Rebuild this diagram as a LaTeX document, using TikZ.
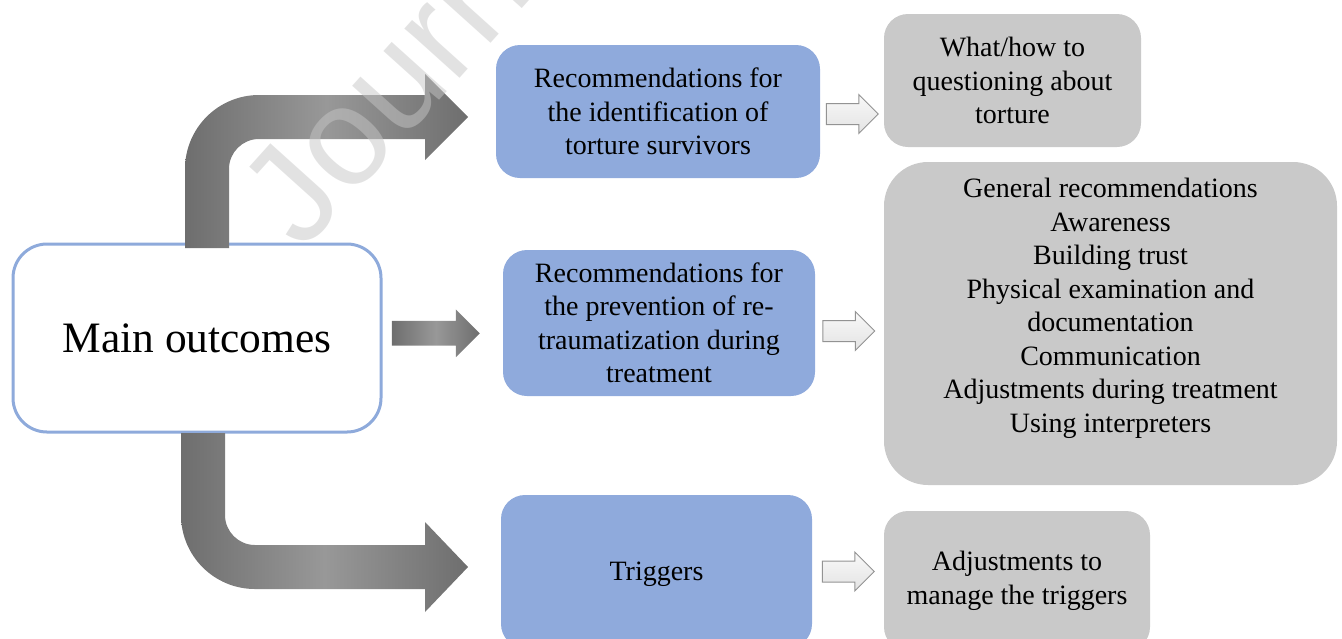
\documentclass[tikz,border=0pt]{standalone}
\usepackage{fontspec}
\setmainfont{Liberation Serif}
\newfontfamily\wmfont{Liberation Sans}
\usetikzlibrary{shapes,arrows,positioning,calc}

\definecolor{edgeblue}{RGB}{142,170,219}
\definecolor{boxblue}{RGB}{143,170,220}
\definecolor{boxgray}{RGB}{201,201,201}
\definecolor{arrdark}{RGB}{110,110,110}
\definecolor{arrlight}{RGB}{152,152,152}

\begin{document}
\begin{tikzpicture}[x=0.5pt, y=-0.5pt]
        \tikzset{
            mainbox/.style={draw=edgeblue, fill=white, rectangle, line width=1.5pt, rounded corners=17pt, minimum width=184pt, minimum height=94pt, align=center, font=\fontsize{21.7}{26}\selectfont},
            recbox/.style={fill=boxblue, rectangle, rounded corners=12pt, inner sep=0pt, align=center, font=\fontsize{14}{16.75}\selectfont},
            infobox/.style={fill=boxgray, rectangle, rounded corners=12pt, inner sep=0pt, align=center, font=\fontsize{14}{16.75}\selectfont},
            bentarrow/.style={left color=arrdark, right color=arrdark, middle color=arrlight},
            bigarrow/.style={single arrow, inner sep=0pt, text height=6pt, text depth=6pt, minimum width=23.5pt, single arrow head extend=5.75pt, left color=arrdark, right color=arrdark, middle color=arrlight},
            smallarrow/.style={single arrow, draw=gray!85, line width=0.5pt, inner sep=0pt, text height=5pt, text depth=5pt, minimum width=19pt, minimum height=26pt, single arrow head extend=4.5pt, top color=gray!5, bottom color=gray!22}
        }
        \clip (0,0) rectangle (1342,638);

        % Nodes
        \node [mainbox] (main) at (197,338) {Main outcomes};

        \node [recbox, minimum width=162pt, minimum height=66.5pt] (ident) at (658,111.5) {Recommendations for\\the identification of\\torture survivors};
        \node [recbox, minimum width=156pt, minimum height=73pt] (prev) at (659,323) {Recommendations for\\the prevention of re-\\traumatization during\\treatment};
        \node [recbox, minimum width=155.5pt, minimum height=76.5pt] (trig) at (656.5,571.5) {};
        \node [font=\fontsize{14}{16.75}\selectfont] (trigtext) at ($(trig.center)+(0,3)$) {Triggers};

        \node [infobox, minimum width=128.5pt, minimum height=66.5pt] (quest) at (1012.5,80.5) {What/how to\\questioning about\\torture};
        \node [infobox, rounded corners=22pt, minimum width=226.5pt, minimum height=161.5pt] (general) at (1110.5,323.5) {};
        \node [align=center, font=\fontsize{14}{16.75}\selectfont] (gentext) at ($(general.center)+(0,-15)$) {General recommendations\\Awareness\\Building trust\\Physical examination and\\documentation\\Communication\\Adjustments during treatment\\Using interpreters};
        \node [infobox, minimum width=133pt, minimum height=70pt] (adjust) at (1017,581) {Adjustments to\\manage the triggers};

        % Big arrows out of the main box
        \path [bentarrow] (185,248) -- (185,169) arc[start angle=180, end angle=270, radius=74]
            -- (425,95) -- (425,74) -- (468,117) -- (425,160) -- (425,139) -- (259,139)
            arc[start angle=270, end angle=180, radius=30] -- (229,248) -- cycle;
        \path [bentarrow] (181,433) -- (181,515) arc[start angle=180, end angle=90, radius=74]
            -- (425,589) -- (425,612) -- (468,567) -- (425,522) -- (425,545) -- (255,545)
            arc[start angle=90, end angle=180, radius=30] -- (225,433) -- cycle;
        \node [bigarrow, minimum height=44pt] (midarrow) at ($(main.east)!0.45!(prev.west) + (-7,2)$) {};

        % Small arrows to the details
        \node [smallarrow] (arr1) at ($(ident.east)!0.5!(quest.west |- ident.east) + (-5,2.5)$) {};
        \node [smallarrow] (arr2) at ($(prev.east)!0.5!(general.west |- prev.east) + (-6,8)$) {};
        \node [smallarrow] (arr3) at ($(trig.east)!0.5!(adjust.west |- trig.east) + (-5,0)$) {};

        % Watermark
        \node [anchor=base west, rotate=48, text=gray!45, opacity=0.5, font=\wmfont\fontsize{70}{70}\selectfont] (wmark) at (298,258) {Journal};
\end{tikzpicture}
\end{document}
